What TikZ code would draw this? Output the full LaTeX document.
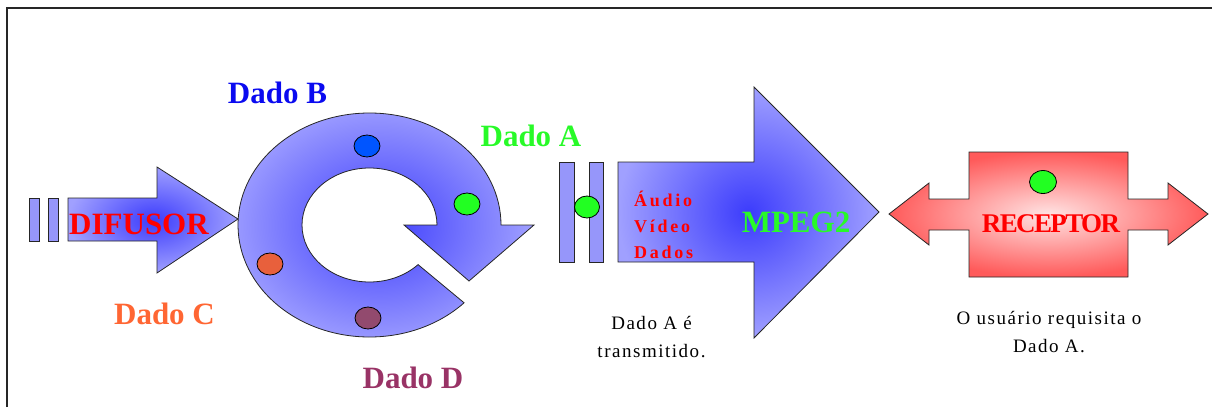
\documentclass[tikz,border=0pt]{standalone}
\usepackage{fontspec}
\setmainfont{Liberation Serif}
\usepackage{tikz}
\usepackage{xcolor}
\usetikzlibrary{shapes,shapes.geometric,positioning}

\definecolor{blueDeep}{RGB}{60,60,252}
\definecolor{blueLight}{RGB}{160,160,255}
\definecolor{blueSlot}{RGB}{150,150,250}
\definecolor{redDeep}{RGB}{255,90,90}
\definecolor{redLight}{RGB}{255,228,228}
\definecolor{textBlue}{RGB}{10,10,240}
\definecolor{textGreen}{RGB}{40,250,40}
\definecolor{textOrange}{RGB}{255,102,51}
\definecolor{textPurple}{RGB}{153,51,102}
\definecolor{ballBlue}{RGB}{0,85,255}
\definecolor{ballGreen}{RGB}{34,255,34}
\definecolor{ballOrange}{RGB}{232,96,60}
\definecolor{ballPurple}{RGB}{146,74,110}

\begin{document}
\begin{tikzpicture}[
    x=1pt, y=-1pt,
    bluearrow/.style={draw=black!85, line width=0.8pt, inner color=blueDeep, outer color=blueLight},
    redarrow/.style={draw=black!85, line width=0.8pt, inner color=redLight, outer color=redDeep},
    slot/.style={draw=black!85, line width=0.8pt, fill=blueSlot},
    ball/.style={draw=black, line width=0.8pt, ellipse, minimum width=26pt, minimum height=22pt, inner sep=0pt},
    dado/.style={anchor=base, inner sep=0pt, font=\fontsize{31}{37}\selectfont\bfseries},
    note/.style={anchor=base, inner sep=0pt, align=center, font=\fontsize{19}{28}\selectfont\addfontfeature{LetterSpace=8}}
]
\useasboundingbox (0,0) rectangle (1212,407);
\draw[line width=1.2pt, black!85] (7,407) -- (7,8) -- (1212,8);

% difusor
\draw[slot] (29,198) rectangle (39,241);
\draw[slot] (48,198) rectangle (58,241);
\draw[bluearrow] (68,198) -- (157,198) -- (157,167) -- (238,219) -- (157,273) -- (157,241) -- (68,241) -- cycle;
\node[dado, text=red] (difusor) at (139,234) {DIFUSOR};

% carrossel
\draw[bluearrow] (464.1,302.8) arc[start angle=44, end angle=360, x radius=131.5, y radius=112]
    -- (534,225) -- (469,281) -- (404,225) -- (437,225)
    arc[start angle=360, end angle=44, x radius=67.5, y radius=57] -- cycle;
\node[ball, fill=ballBlue] (ballB) at (367,146) {};
\node[ball, fill=ballGreen] (ballA) at (467,204) {};
\node[ball, fill=ballOrange] (ballC) at (270,264) {};
\node[ball, fill=ballPurple] (ballD) at (368,318) {};
\node[dado, text=textBlue] (dadoB) at (277.5,103) {Dado B};
\node[dado, text=textGreen] (dadoA) at (531,146) {Dado A};
\node[dado, text=textOrange] (dadoC) at (164.5,324) {Dado C};
\node[dado, text=textPurple] (dadoD) at (413,388) {Dado D};

% transmissao
\draw[slot] (559,162) rectangle (574,262);
\draw[slot] (589,162) rectangle (603,262);
\node[ball, fill=ballGreen, minimum width=25pt] (ballSend) at (587,207) {};
\draw[bluearrow] (618,162) -- (754,162) -- (754,87) -- (879,212) -- (754,338) -- (754,262) -- (618,262) -- cycle;
\node[anchor=base west, inner sep=0pt, align=left, text=red,
    font=\fontsize{18}{26}\selectfont\bfseries\addfontfeature{LetterSpace=15}] (canais) at (634,258) {Áudio\\Vídeo\\Dados};
\node[dado, text=textGreen] (mpeg) at (796,232) {MPEG2};
\node[note] (envio) at (651.5,357) {Dado A é\\transmitido.};

% receptor
\draw[redarrow] (969,152) -- (1128,152) -- (1128,199) -- (1168,199) -- (1168,183) -- (1208,214)
    -- (1168,245) -- (1168,230) -- (1128,230) -- (1128,277) -- (969,277) -- (969,230)
    -- (929,230) -- (929,245) -- (889,214) -- (929,183) -- (929,199) -- (969,199) -- cycle;
\node[ball, fill=ballGreen, minimum width=27pt, minimum height=23pt] (ballRecv) at (1043,182) {};
\node[dado, text=red, font=\fontsize{27}{32}\selectfont\bfseries\addfontfeature{LetterSpace=-6}] (receptor) at (1051,232) {RECEPTOR};
\node[note] (pedido) at (1049,352) {O usuário requisita o\\Dado A.};

\end{tikzpicture}
\end{document}
